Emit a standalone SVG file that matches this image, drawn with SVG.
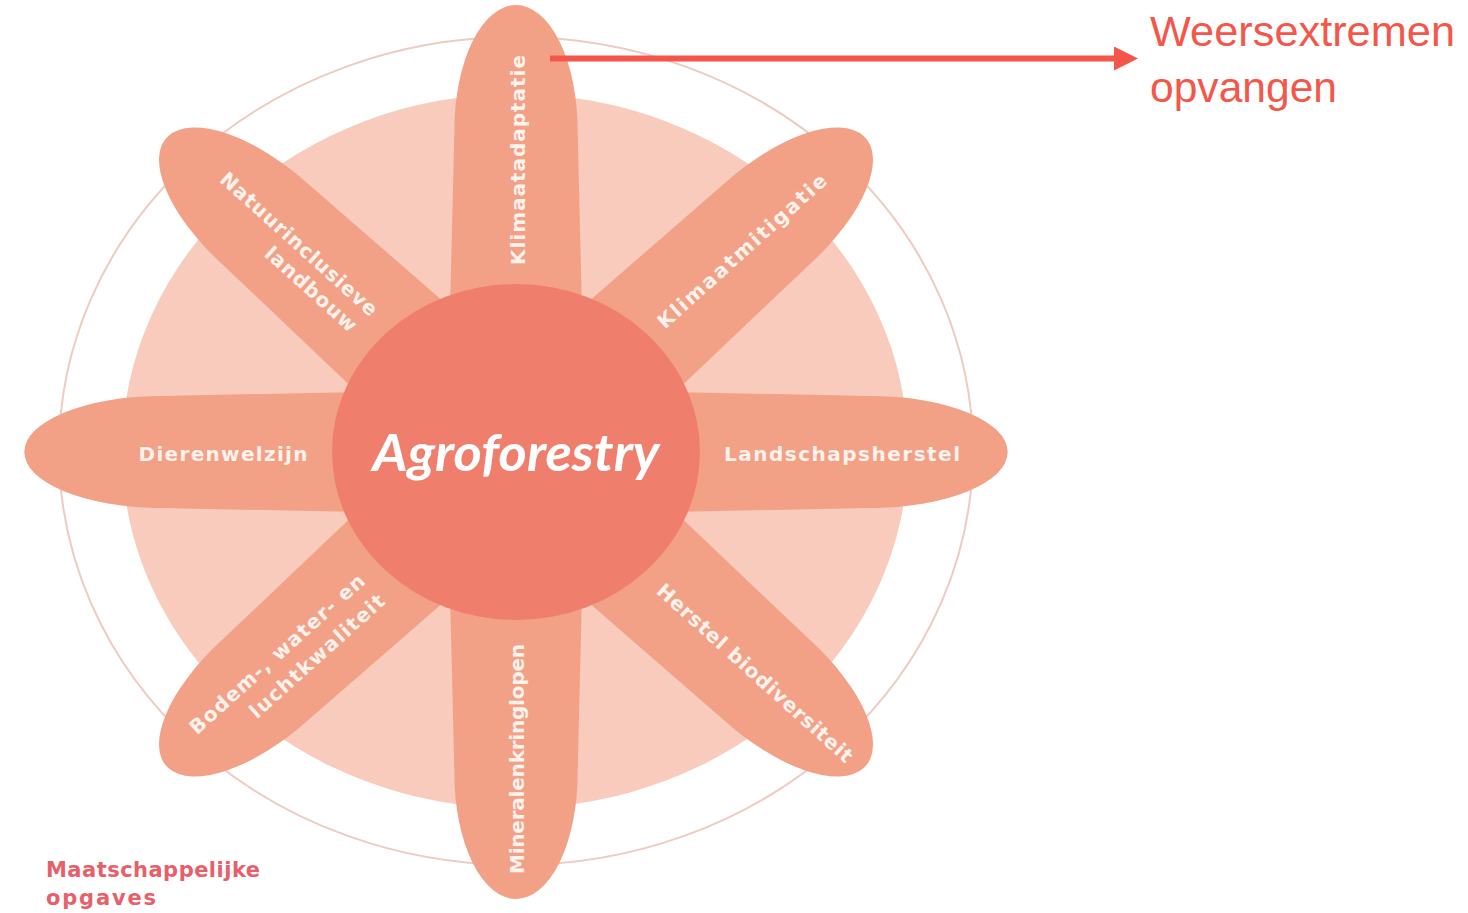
<svg xmlns="http://www.w3.org/2000/svg" xmlns:xlink="http://www.w3.org/1999/xlink" width="1468" height="913" viewBox="0 0 1468 913">
  <style>
    .petal { fill: #f2a086; }
    .lbl { font-family: "DejaVu Sans", "Liberation Sans", sans-serif; font-weight: bold; font-size: 20px; fill: #fdf2ec; text-anchor: middle; }
    .note { font-family: "Liberation Sans", Arial, sans-serif; font-size: 42px; fill: #f4574a; }
    .legend { font-family: "DejaVu Sans", "Liberation Sans", sans-serif; font-weight: bold; font-size: 21px; fill: #e6606a; }
  </style>
  <defs>
    <path id="petalShape" d="M -60 -140 L -56 -322 A 56 125 0 0 1 56 -322 L 60 -140 Z"/>
    <marker id="arrowHead" viewBox="0 0 24 24" refX="2" refY="12" markerWidth="24" markerHeight="24" markerUnits="userSpaceOnUse" orient="auto">
      <path d="M 0 0 L 24 12 L 0 24 Z" fill="#f4574a"/>
    </marker>
  </defs>
  <rect width="1468" height="913" fill="#ffffff"/>

  <g id="background">
    <ellipse cx="516" cy="451" rx="457" ry="414" fill="none" stroke="#eecbc1" stroke-width="2"/>
    <ellipse cx="515" cy="451" rx="393" ry="357" fill="#f8cbbc"/>
  </g>

  <g id="petal-klimaatadaptatie">
    <use xlink:href="#petalShape" class="petal" transform="translate(516 452) scale(1.1 1) rotate(0)"/>
    <text class="lbl" transform="translate(518 160) rotate(-90)" dy="0.35em" textLength="210" lengthAdjust="spacing">Klimaatadaptatie</text>
  </g>
  <g id="petal-klimaatmitigatie">
    <use xlink:href="#petalShape" class="petal" transform="translate(516 452) scale(1.1 1) rotate(45)"/>
    <text class="lbl" transform="translate(742 251) rotate(-42)" dy="0.35em" textLength="220" lengthAdjust="spacing">Klimaatmitigatie</text>
  </g>
  <g id="petal-landschapsherstel">
    <use xlink:href="#petalShape" class="petal" transform="translate(516 452) scale(1.1 1) rotate(90)"/>
    <text class="lbl" transform="translate(842 454)" dy="0.35em" textLength="236" lengthAdjust="spacing">Landschapsherstel</text>
  </g>
  <g id="petal-herstel-biodiversiteit">
    <use xlink:href="#petalShape" class="petal" transform="translate(516 452) scale(1.1 1) rotate(135)"/>
    <text class="lbl" transform="translate(755 673) rotate(42)" dy="0.35em" textLength="256" lengthAdjust="spacing">Herstel biodiversiteit</text>
  </g>
  <g id="petal-mineralenkringlopen">
    <use xlink:href="#petalShape" class="petal" transform="translate(516 452) scale(1.1 1) rotate(180)"/>
    <text class="lbl" transform="translate(517 759) rotate(-90)" dy="0.35em" textLength="230" lengthAdjust="spacing">Mineralenkringlopen</text>
  </g>
  <g id="petal-bodem-water-lucht">
    <use xlink:href="#petalShape" class="petal" transform="translate(516 452) scale(1.1 1) rotate(225)"/>
    <text class="lbl" transform="translate(277 654) rotate(-42)" dy="0.35em" textLength="228" lengthAdjust="spacing">Bodem-, water- en</text>
    <text class="lbl" transform="translate(317 656) rotate(-42)" dy="0.35em" textLength="174" lengthAdjust="spacing">luchtkwaliteit</text>
  </g>
  <g id="petal-dierenwelzijn">
    <use xlink:href="#petalShape" class="petal" transform="translate(516 452) scale(1.1 1) rotate(270)"/>
    <text class="lbl" transform="translate(223 454)" dy="0.35em" textLength="169" lengthAdjust="spacing">Dierenwelzijn</text>
  </g>
  <g id="petal-natuurinclusieve-landbouw">
    <use xlink:href="#petalShape" class="petal" transform="translate(516 452) scale(1.1 1) rotate(315)"/>
    <text class="lbl" transform="translate(299 244) rotate(42)" dy="0.35em" textLength="204" lengthAdjust="spacing">Natuurinclusieve</text>
    <text class="lbl" transform="translate(311 289) rotate(42)" dy="0.35em" textLength="116" lengthAdjust="spacing">landbouw</text>
  </g>

  <g id="center-agroforestry">
    <ellipse cx="516" cy="452" rx="184" ry="168" fill="#ef7f6c"/>
    <text x="516" y="471" text-anchor="middle" font-family="Lato, 'Liberation Sans', sans-serif" font-weight="bold" font-style="italic" font-size="52" fill="#ffffff" textLength="287" lengthAdjust="spacingAndGlyphs">Agroforestry</text>
  </g>

  <g id="legend">
    <text class="legend" x="46" y="877" textLength="214" lengthAdjust="spacing">Maatschappelijke</text>
    <text class="legend" x="46" y="905" textLength="110" lengthAdjust="spacing">opgaves</text>
  </g>

  <g id="connectors">
    <line x1="550" y1="58.5" x2="1116" y2="58.5" stroke="#f4574a" stroke-width="6" marker-end="url(#arrowHead)"/>
  </g>

  <g id="note-weersextremen">
    <text class="note" x="1150" y="46" textLength="305" lengthAdjust="spacingAndGlyphs">Weersextremen</text>
    <text class="note" x="1150" y="102" textLength="187" lengthAdjust="spacingAndGlyphs">opvangen</text>
  </g>
</svg>
